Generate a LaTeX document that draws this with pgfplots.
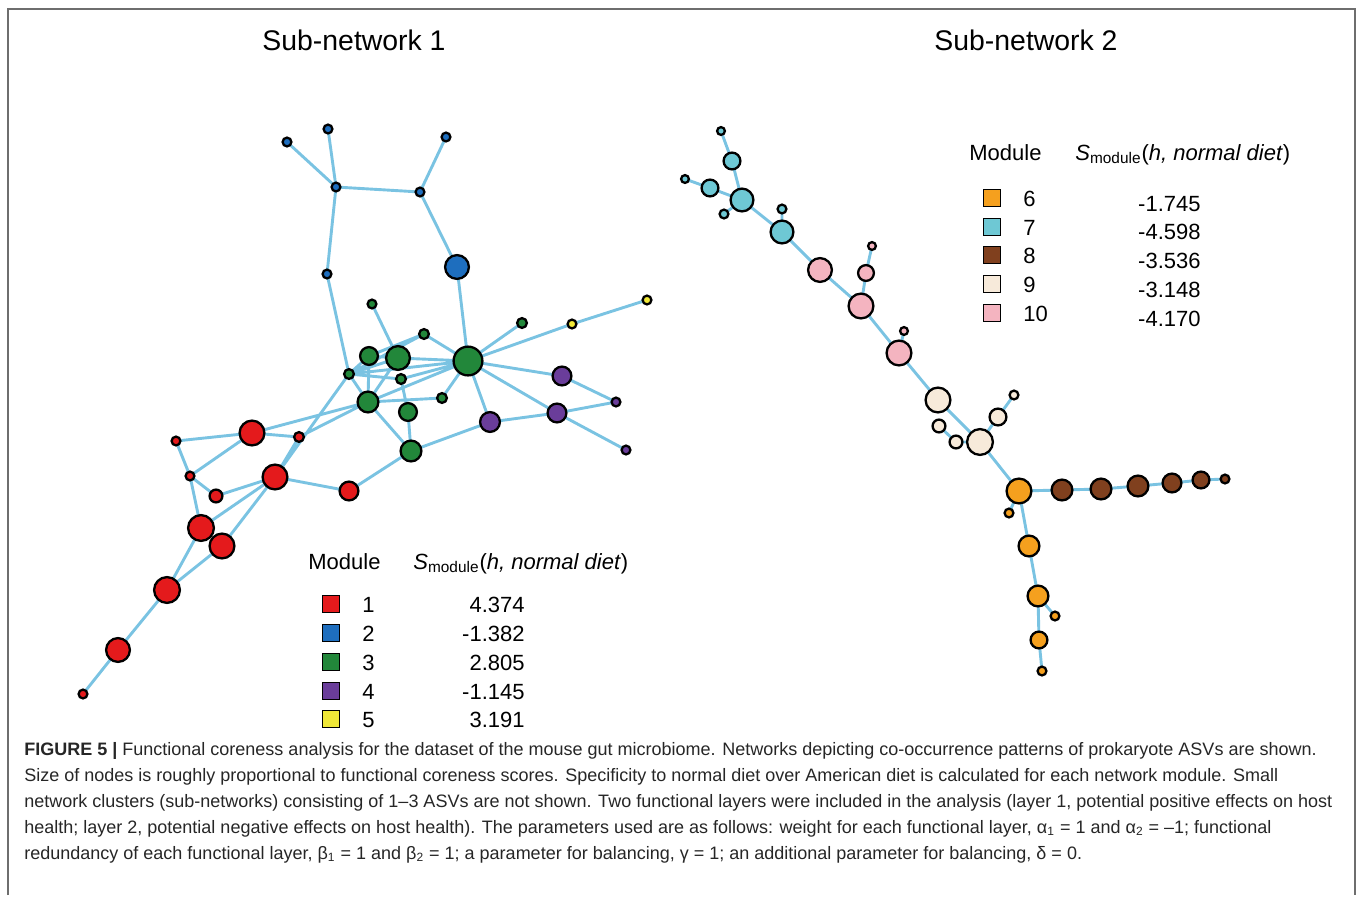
\documentclass[border=0pt]{standalone}
\usepackage{pgfplots}
\pgfplotsset{compat=1.18}
\usepackage{pgfplotstable}
\usepackage{fontspec}
\setmainfont{Liberation Sans}
\definecolor{cRed}{RGB}{228,26,28}
\definecolor{cBlue}{RGB}{30,110,190}
\definecolor{cGreen}{RGB}{34,135,58}
\definecolor{cPurple}{RGB}{106,61,154}
\definecolor{cYellow}{RGB}{240,232,56}
\definecolor{cOrange}{RGB}{245,160,30}
\definecolor{cCyan}{RGB}{110,200,212}
\definecolor{cBrown}{RGB}{128,64,30}
\definecolor{cCream}{RGB}{247,234,218}
\definecolor{cPink}{RGB}{244,180,192}
\definecolor{cEdge}{RGB}{122,195,226}
\definecolor{cFrame}{RGB}{110,110,110}

% node tables: x y r (pixel units)
\pgfplotstableread{
x y r
176 441 5
252 433 13
299 437 5.5
190 476 5
275 477 13
216 496 7
349 491 10
201 528 13.5
222 546 13
167 590 13.5
118 650 12.5
83 694 5
}\modA
\pgfplotstableread{
x y r
287 142 5
328 129 5
446 137 5
336 187 5
420 192 5
327 274 5
457 267 12.5
}\modB
\pgfplotstableread{
x y r
372 304 5
424 334 5.5
522 323 5.5
369 356 9.5
398 358 12.5
468 361 15
349 374 5.5
401 379 5.5
368 402 11
442 398 5.5
408 412 9.5
411 451 11
}\modC
\pgfplotstableread{
x y r
562 376 10
616 402 5
557 413 10
490 422 10.5
626 450 5
}\modD
\pgfplotstableread{
x y r
572 324 5
647 300 5
}\modE
\pgfplotstableread{
x y r
1019 491 13
1009 513 5
1029 546 11
1038 596 11
1055 616 5
1039 640 9
1042 671 5
}\modF
\pgfplotstableread{
x y r
721 131 4.5
732 161 9
685 179 4.5
710 188 9
742 200 12
724 214 5
782 209 5
782 232 12
}\modG
\pgfplotstableread{
x y r
1062 490 11
1101 489 11
1138 486 11
1172 483 10
1201 480 9
1225 479 5
}\modH
\pgfplotstableread{
x y r
938 400 13
1014 395 5
998 417 9
939 426 7
956 442 7
980 442 13.5
}\modI
\pgfplotstableread{
x y r
820 270 12.5
872 246 4.5
866 273 8.5
861 306 13
904 331 4.5
899 353 13
}\modJ

\pgfplotsset{
  netnode/.style={scatter, only marks, mark=*, line width=1.15pt,
    point meta=\thisrow{r},
    scatter/use mapped color={draw=black, fill=#1},
    visualization depends on={0.5*\thisrow{r}-0.3 \as \rad},
    scatter/@pre marker code/.append style={/tikz/mark size=\rad pt}},
  legsq/.style={only marks, mark=square*, mark size=4.3pt, line width=0.8pt,
    mark options={draw=black, fill=#1}},
}

\begin{document}
\begin{tikzpicture}
\begin{axis}[
  scale only axis, width=678.5pt, height=447.5pt,
  xmin=0, xmax=1357, ymin=0, ymax=895, y dir=reverse,
  hide axis, clip=false, unbounded coords=jump,
]
\path (axis cs:0,0) rectangle (axis cs:1357,895);
% frame
\addplot[cFrame, line width=1pt] coordinates {(8,895) (8,9) (1355,9) (1355,895)};

% edges
\addplot[cEdge, line width=1.45pt] table {
287 142
336 187
nan nan
328 129
336 187
nan nan
336 187
420 192
nan nan
446 137
420 192
nan nan
336 187
327 274
nan nan
327 274
349 374
nan nan
420 192
457 267
nan nan
457 267
468 361
nan nan
372 304
398 358
nan nan
424 334
369 356
nan nan
424 334
349 374
nan nan
424 334
468 361
nan nan
369 356
398 358
nan nan
398 358
468 361
nan nan
349 374
369 356
nan nan
349 374
398 358
nan nan
349 374
468 361
nan nan
349 374
401 379
nan nan
349 374
368 402
nan nan
368 402
369 356
nan nan
368 402
398 358
nan nan
368 402
468 361
nan nan
368 402
442 398
nan nan
442 398
468 361
nan nan
401 379
468 361
nan nan
401 379
408 412
nan nan
408 412
411 451
nan nan
368 402
411 451
nan nan
468 361
522 323
nan nan
468 361
572 324
nan nan
572 324
647 300
nan nan
468 361
562 376
nan nan
468 361
557 413
nan nan
468 361
490 422
nan nan
411 451
490 422
nan nan
490 422
557 413
nan nan
557 413
616 402
nan nan
562 376
616 402
nan nan
557 413
626 450
nan nan
411 451
349 491
nan nan
176 441
252 433
nan nan
176 441
190 476
nan nan
252 433
299 437
nan nan
252 433
368 402
nan nan
299 437
368 402
nan nan
190 476
252 433
nan nan
190 476
216 496
nan nan
190 476
201 528
nan nan
216 496
275 477
nan nan
275 477
299 437
nan nan
275 477
349 374
nan nan
275 477
349 491
nan nan
275 477
201 528
nan nan
275 477
222 546
nan nan
201 528
167 590
nan nan
222 546
167 590
nan nan
167 590
118 650
nan nan
118 650
83 694
nan nan
721 131
732 161
742 200
nan nan
685 179
710 188
742 200
nan nan
724 214
742 200
782 232
820 270
861 306
899 353
938 400
980 442
1019 491
1029 546
1038 596
1039 640
1042 671
nan nan
782 209
782 232
nan nan
872 246
866 273
861 306
nan nan
904 331
899 353
nan nan
1014 395
998 417
980 442
nan nan
939 426
956 442
980 442
nan nan
1019 491
1009 513
nan nan
1038 596
1055 616
nan nan
1019 491
1062 490
1101 489
1138 486
1172 483
1201 480
1225 479
};

% nodes
\addplot[netnode=cBlue] table {\modB};
\addplot[netnode=cGreen] table {\modC};
\addplot[netnode=cPurple] table {\modD};
\addplot[netnode=cYellow] table {\modE};
\addplot[netnode=cRed] table {\modA};
\addplot[netnode=cCyan] table {\modG};
\addplot[netnode=cPink] table {\modJ};
\addplot[netnode=cCream] table {\modI};
\addplot[netnode=cOrange] table {\modF};
\addplot[netnode=cBrown] table {\modH};

% legend squares
\addplot[legsq=cRed] coordinates {(331,604)};
\addplot[legsq=cBlue] coordinates {(331,633)};
\addplot[legsq=cGreen] coordinates {(331,662)};
\addplot[legsq=cPurple] coordinates {(331,691)};
\addplot[legsq=cYellow] coordinates {(331,719)};
\addplot[legsq=cOrange] coordinates {(992,198)};
\addplot[legsq=cCyan] coordinates {(992,227)};
\addplot[legsq=cBrown] coordinates {(992,255)};
\addplot[legsq=cCream] coordinates {(992,284)};
\addplot[legsq=cPink] coordinates {(992,313)};

% titles
\node[anchor=base] at (axis cs:354,50) {\fontsize{14.2}{17}\selectfont Sub-network 1};
\node[anchor=base] at (axis cs:1026,50) {\fontsize{14.2}{17}\selectfont Sub-network 2};

% legend 1 text
\begin{scope}[every node/.style={inner sep=0pt, font=\fontsize{11}{13}\selectfont}]
\node[anchor=base west] at (axis cs:308,569) {Module};
\node[anchor=base west] at (axis cs:413,569) {\textit{S}\textsubscript{module}(\textit{h, normal diet})};
\node[anchor=base west] at (axis cs:362,612) {1};
\node[anchor=base west] at (axis cs:362,641) {2};
\node[anchor=base west] at (axis cs:362,670) {3};
\node[anchor=base west] at (axis cs:362,699) {4};
\node[anchor=base west] at (axis cs:362,727) {5};
\node[anchor=base east] at (axis cs:525,612) {4.374};
\node[anchor=base east] at (axis cs:525,641) {-1.382};
\node[anchor=base east] at (axis cs:525,670) {2.805};
\node[anchor=base east] at (axis cs:525,699) {-1.145};
\node[anchor=base east] at (axis cs:525,727) {3.191};
% legend 2 text
\node[anchor=base west] at (axis cs:969,160) {Module};
\node[anchor=base west] at (axis cs:1075,160) {\textit{S}\textsubscript{module}(\textit{h, normal diet})};
\node[anchor=base west] at (axis cs:1023,206) {6};
\node[anchor=base west] at (axis cs:1023,235) {7};
\node[anchor=base west] at (axis cs:1023,263) {8};
\node[anchor=base west] at (axis cs:1023,292) {9};
\node[anchor=base west] at (axis cs:1023,321) {10};
\node[anchor=base east] at (axis cs:1201,211) {-1.745};
\node[anchor=base east] at (axis cs:1201,239) {-4.598};
\node[anchor=base east] at (axis cs:1201,268) {-3.536};
\node[anchor=base east] at (axis cs:1201,297) {-3.148};
\node[anchor=base east] at (axis cs:1201,326) {-4.170};
\end{scope}

% caption
\begin{scope}[every node/.style={inner sep=0pt, anchor=base west, text=black!85, font=\fontsize{9}{11}\selectfont}]
\node at (axis cs:24,755) {\textbf{FIGURE 5 |} Functional coreness analysis for the dataset of the mouse gut microbiome. Networks depicting co-occurrence patterns of prokaryote ASVs are shown.};
\node at (axis cs:24,781) {Size of nodes is roughly proportional to functional coreness scores. Specificity to normal diet over American diet is calculated for each network module. Small};
\node at (axis cs:24,807) {network clusters (sub-networks) consisting of 1–3 ASVs are not shown. Two functional layers were included in the analysis (layer 1, potential positive effects on host};
\node at (axis cs:24,833) {health; layer 2, potential negative effects on host health). The parameters used are as follows: weight for each functional layer, α\textsubscript{1} = 1 and α\textsubscript{2} = –1; functional};
\node at (axis cs:24,859) {redundancy of each functional layer, β\textsubscript{1} = 1 and β\textsubscript{2} = 1; a parameter for balancing, γ = 1; an additional parameter for balancing, δ = 0.};
\end{scope}
\end{axis}
\end{tikzpicture}
\end{document}
